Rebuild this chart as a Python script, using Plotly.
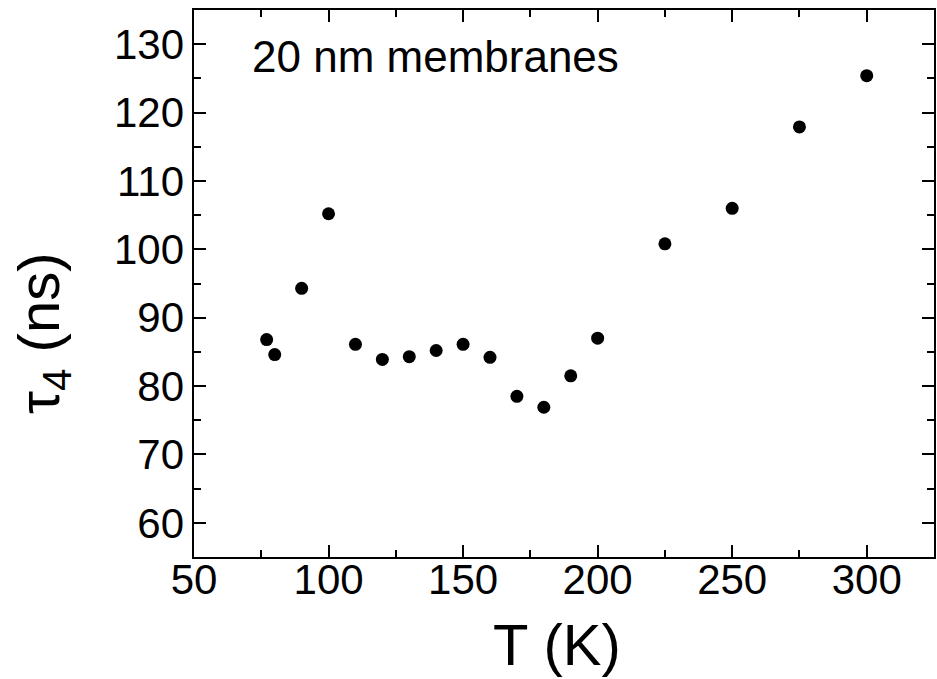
import plotly.graph_objects as go

# Data
temperature_K = [77, 80, 90, 100, 110, 120, 130, 140, 150, 160, 170, 180, 190, 200, 225, 250, 275, 300]
tau4_ns = [86.8, 84.6, 94.3, 105.2, 86.1, 83.9, 84.3, 85.2, 86.1, 84.2, 78.5, 76.9, 81.5, 87.0, 100.8, 106.0, 117.9, 125.4]

x_range = [50, 325]
y_range = [55, 135]

FONT = "Arial, Liberation Sans, sans-serif"

fig = go.Figure()
# transparent copy on the label-only overlay axes so they are drawn
fig.add_trace(go.Scatter(
    x=temperature_K, y=tau4_ns, mode="markers", xaxis="x2", yaxis="y2",
    marker=dict(size=1, color="rgba(0,0,0,0)"), hoverinfo="skip",
    showlegend=False,
))
fig.add_trace(go.Scatter(
    x=temperature_K, y=tau4_ns, mode="markers",
    marker=dict(size=13, color="black", line=dict(width=0)),
    showlegend=False,
))

axis_common = dict(
    showline=True, linecolor="black", linewidth=2,
    mirror="allticks", ticks="inside", ticklen=12, tickwidth=2, tickcolor="black",
    showgrid=False, zeroline=False, showticklabels=False,
)
label_axis = dict(
    ticks="", showline=False, showgrid=False, zeroline=False,
    tickfont=dict(family=FONT, size=42, color="black"),
)

fig.update_layout(
    xaxis=dict(
        range=x_range, tickmode="linear", tick0=50, dtick=50,
        minor=dict(ticks="inside", ticklen=7, tickwidth=2, tickcolor="black", dtick=25, tick0=50, showgrid=False),
        **axis_common,
    ),
    yaxis=dict(
        range=y_range, tickmode="linear", tick0=60, dtick=10,
        minor=dict(ticks="inside", ticklen=7, tickwidth=2, tickcolor="black", dtick=5, tick0=55, showgrid=False),
        **axis_common,
    ),
    xaxis2=dict(
        range=x_range, tickmode="linear", tick0=50, dtick=50,
        overlaying="x", anchor="y2", side="bottom", ticklabelstandoff=-6,
        **label_axis,
    ),
    yaxis2=dict(
        range=y_range, tickmode="linear", tick0=60, dtick=10,
        overlaying="y", anchor="x2", side="left", ticklabelstandoff=9,
        **label_axis,
    ),
)

fig.add_annotation(
    text="20 nm membranes", xref="paper", yref="paper", x=0.075, y=0.915,
    xanchor="left", yanchor="middle", showarrow=False,
    font=dict(family=FONT, size=44, color="black"),
)
fig.add_annotation(
    text="T (K)", xref="paper", yref="paper", x=0.49, y=-0.16,
    xanchor="center", yanchor="middle", showarrow=False,
    font=dict(family=FONT, size=58, color="black"),
)
fig.add_annotation(
    text="τ<sub>4</sub> (ns)", xref="paper", yref="paper", x=-0.205, y=0.41,
    xanchor="center", yanchor="middle", showarrow=False, textangle=-90,
    font=dict(family=FONT, size=58, color="black"),
)

fig.update_layout(
    width=937, height=679,
    margin=dict(l=194, r=1, t=10, b=122),
    plot_bgcolor="white", paper_bgcolor="white",
)

fig.write_html("out.html")
